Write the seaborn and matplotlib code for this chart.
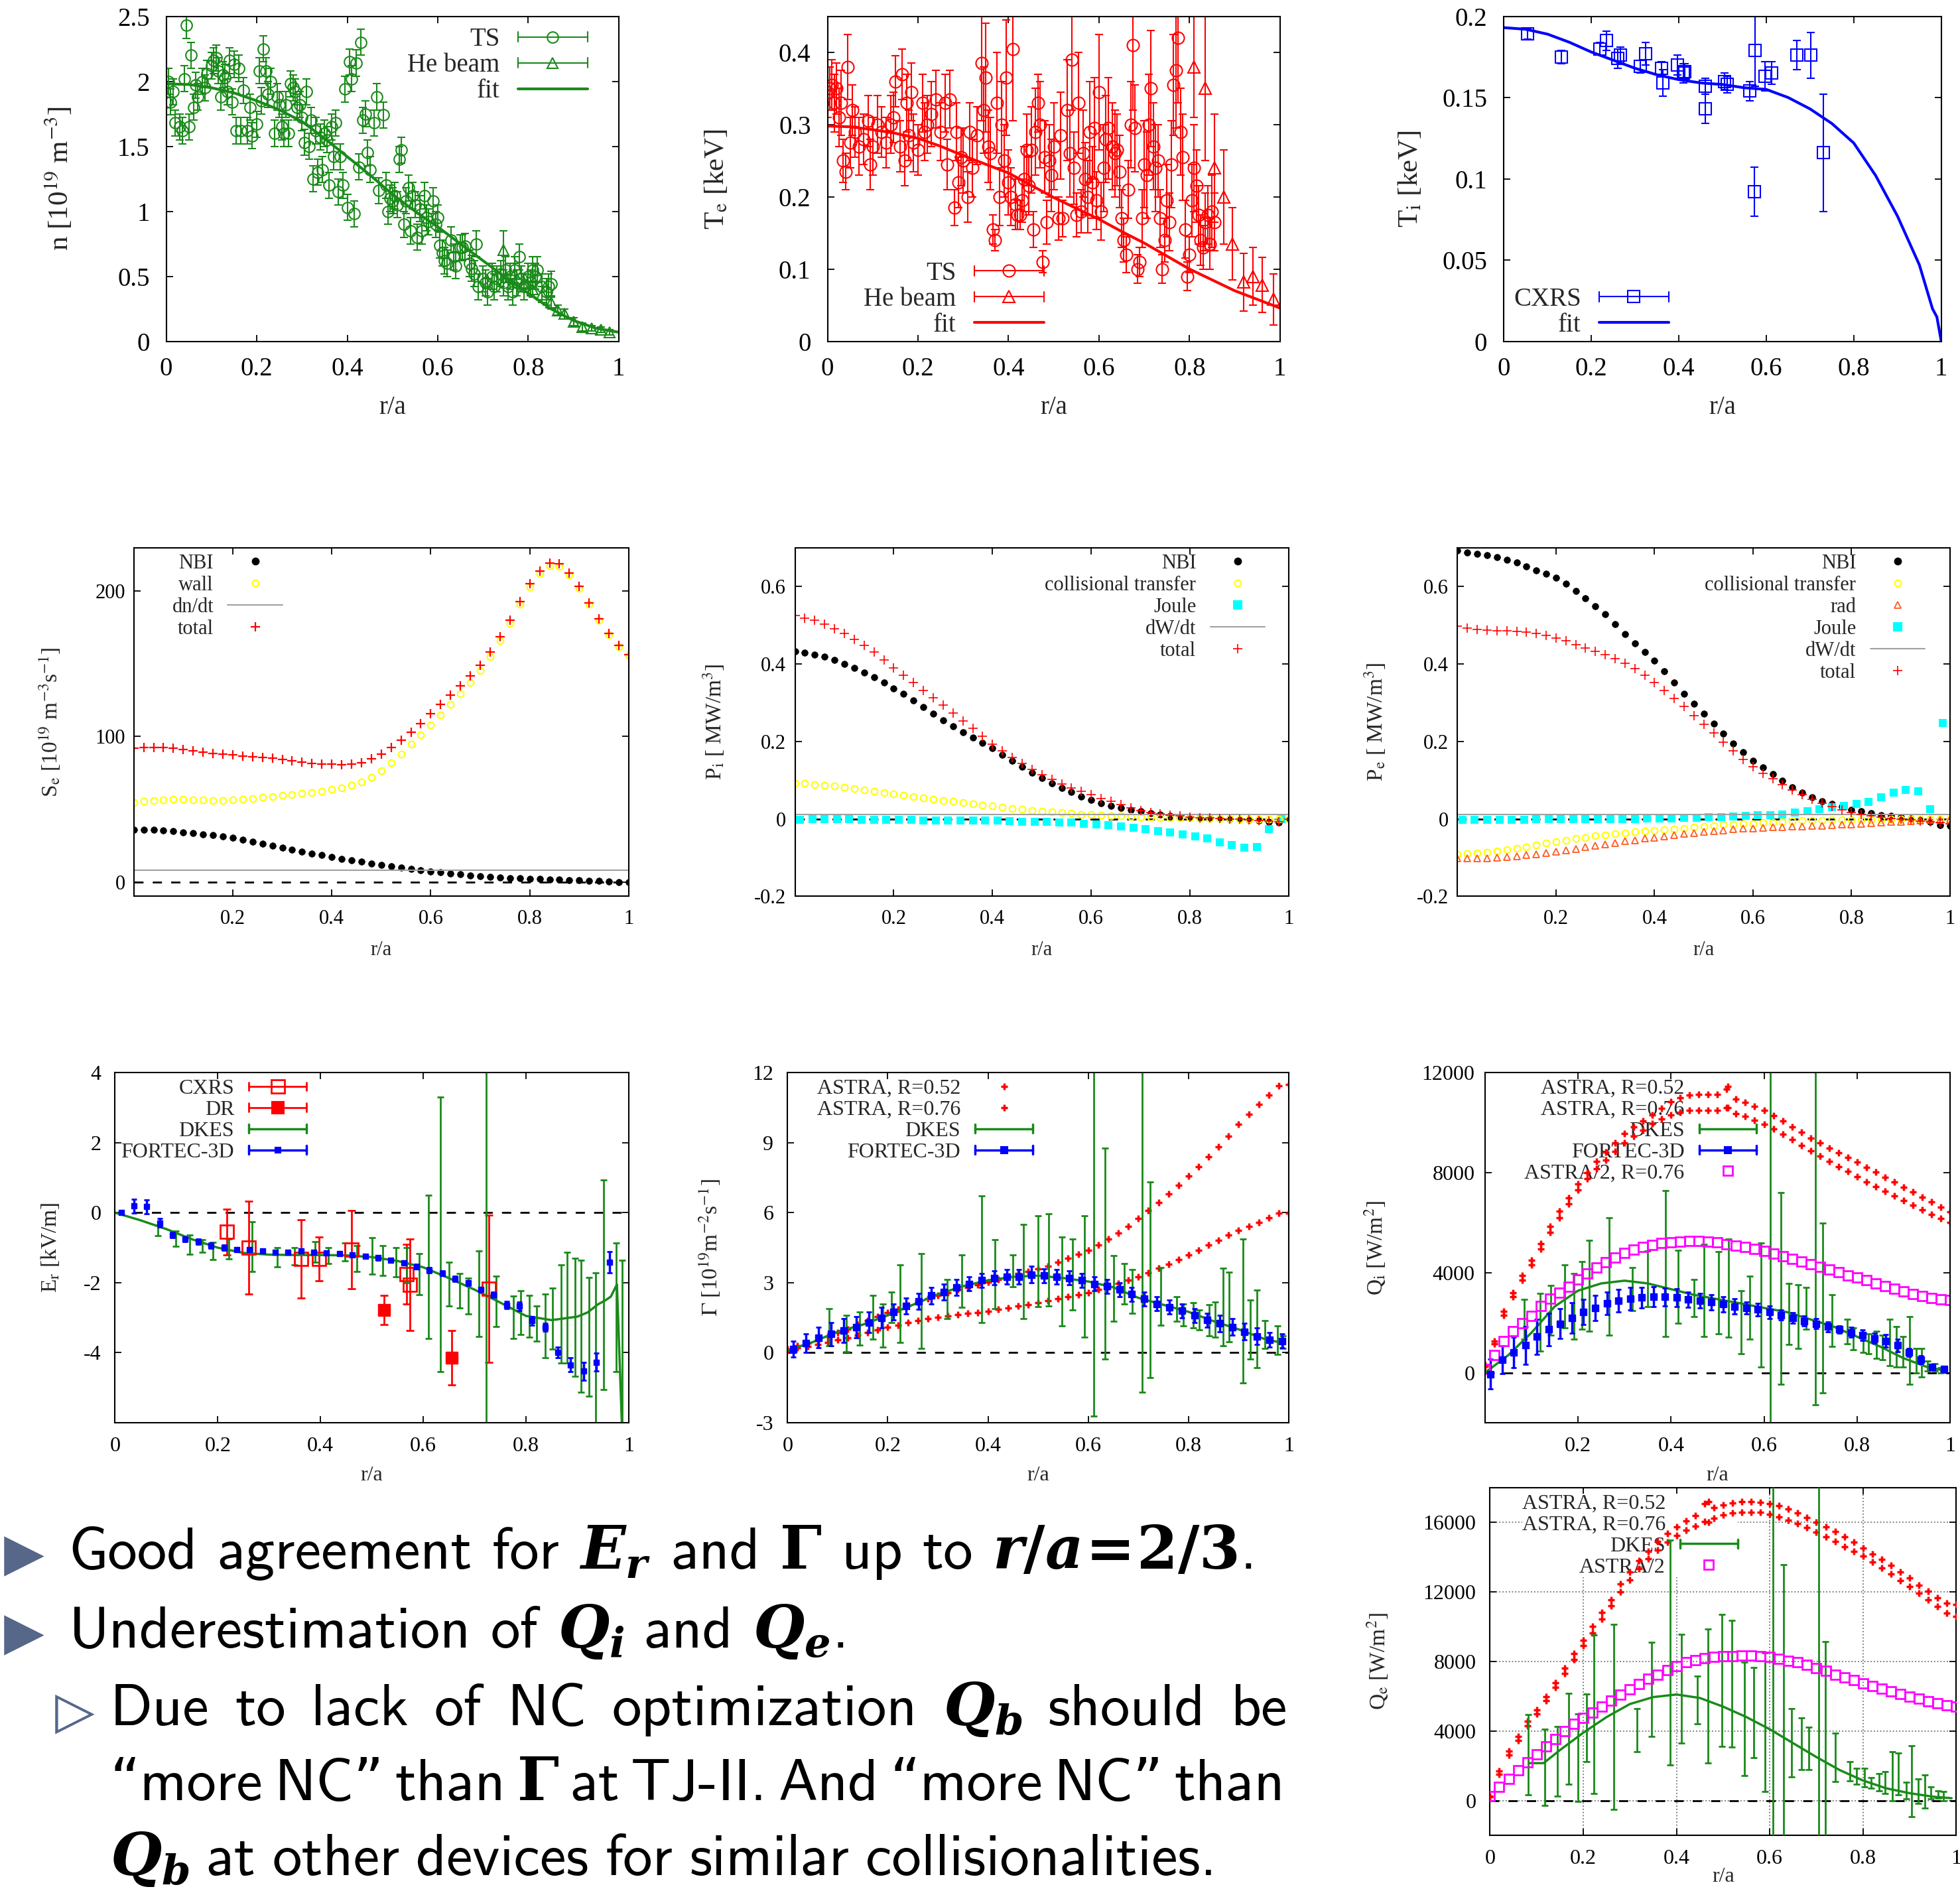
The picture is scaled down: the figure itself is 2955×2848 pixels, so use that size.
import matplotlib
matplotlib.use("Agg")
import matplotlib.pyplot as plt
import seaborn as sns
from matplotlib.lines import Line2D
from matplotlib.legend_handler import HandlerBase
from matplotlib.ticker import FuncFormatter

# ---------------- data ----------------
R51 = [0.00, 0.02, 0.04, 0.06, 0.08, 0.10, 0.12, 0.14, 0.16, 0.18,
       0.20, 0.22, 0.24, 0.26, 0.28, 0.30, 0.32, 0.34, 0.36, 0.38,
       0.40, 0.42, 0.44, 0.46, 0.48, 0.50, 0.52, 0.54, 0.56, 0.58,
       0.60, 0.62, 0.64, 0.66, 0.68, 0.70, 0.72, 0.74, 0.76, 0.78,
       0.80, 0.82, 0.84, 0.86, 0.88, 0.90, 0.92, 0.94, 0.96, 0.98, 1.00]
J40 = [0.010, 0.035, 0.060, 0.085, 0.110, 0.135, 0.160, 0.185, 0.210, 0.235,
       0.260, 0.285, 0.310, 0.335, 0.360, 0.385, 0.410, 0.435, 0.460, 0.485,
       0.510, 0.535, 0.560, 0.585, 0.610, 0.635, 0.660, 0.685, 0.710, 0.735,
       0.760, 0.785, 0.810, 0.835, 0.860, 0.885, 0.910, 0.935, 0.960, 0.985]
F40 = [0.012, 0.037, 0.062, 0.087, 0.112, 0.137, 0.162, 0.187, 0.212, 0.237,
       0.262, 0.287, 0.312, 0.337, 0.362, 0.387, 0.412, 0.437, 0.462, 0.487,
       0.512, 0.537, 0.562, 0.587, 0.612, 0.637, 0.662, 0.687, 0.712, 0.737,
       0.762, 0.787, 0.812, 0.837, 0.862, 0.887, 0.912, 0.937, 0.962, 0.987]
FIT_R = [0.00, 0.05, 0.10, 0.15, 0.20, 0.25, 0.30, 0.35, 0.40, 0.45, 0.50,
         0.55, 0.60, 0.65, 0.70, 0.75, 0.80, 0.85, 0.90, 0.95, 1.00]

# density
N_TS_R = [0.000, 0.005, 0.010, 0.015, 0.020, 0.030, 0.035, 0.040, 0.045, 0.050,
          0.055, 0.060, 0.065, 0.070, 0.080, 0.085, 0.090, 0.100, 0.105, 0.110,
          0.115, 0.120, 0.125, 0.130, 0.135, 0.140, 0.145, 0.150, 0.155, 0.160,
          0.165, 0.170, 0.180, 0.185, 0.190, 0.200, 0.205, 0.210, 0.215, 0.220,
          0.225, 0.230, 0.240, 0.245, 0.250, 0.255, 0.260, 0.265, 0.270, 0.275,
          0.280, 0.285, 0.290, 0.295, 0.300, 0.305, 0.310, 0.315, 0.320, 0.325,
          0.330, 0.335, 0.340, 0.345, 0.350, 0.355, 0.360, 0.365, 0.370, 0.375,
          0.380, 0.385, 0.390, 0.395, 0.400, 0.405, 0.410, 0.415, 0.420, 0.425,
          0.430, 0.435, 0.440, 0.445, 0.450, 0.460, 0.465, 0.470, 0.480, 0.485,
          0.490, 0.495, 0.500, 0.505, 0.510, 0.515, 0.520, 0.525, 0.530, 0.535,
          0.540, 0.545, 0.550, 0.555, 0.560, 0.565, 0.570, 0.575, 0.580, 0.590,
          0.595, 0.600, 0.605, 0.610, 0.615, 0.620, 0.630, 0.635, 0.640, 0.650,
          0.655, 0.660, 0.670, 0.675, 0.680, 0.685, 0.690, 0.700, 0.705, 0.710,
          0.720, 0.725, 0.730, 0.740, 0.745, 0.750, 0.755, 0.760, 0.765, 0.770,
          0.775, 0.780, 0.785, 0.790, 0.800, 0.805, 0.810, 0.815, 0.820, 0.830,
          0.840, 0.845, 0.850]
N_TS_V = [1.84, 2.00, 1.84, 1.92, 1.68, 1.65, 1.62, 2.02, 2.43, 1.65,
          2.20, 1.80, 1.97, 1.88, 2.00, 1.95, 2.06, 2.12, 2.16, 2.18,
          2.08, 1.88, 2.05, 2.03, 1.92, 2.16, 1.84, 2.13, 1.62, 2.10,
          1.62, 1.93, 1.62, 1.80, 1.58, 1.67, 2.08, 1.85, 2.25, 2.08,
          1.90, 2.00, 1.60, 1.88, 1.82, 1.65, 1.60, 1.82, 1.60, 1.98,
          1.95, 1.92, 1.80, 1.82, 1.72, 1.53, 1.92, 1.50, 1.70, 1.25,
          1.62, 1.30, 1.57, 1.32, 1.60, 1.55, 1.20, 1.65, 1.42, 1.68,
          1.15, 1.42, 1.20, 1.94, 1.03, 2.15, 2.02, 0.98, 2.14, 1.34,
          2.30, 1.70, 1.75, 1.45, 1.32, 1.68, 1.88, 1.16, 1.74, 1.20,
          1.00, 1.10, 1.08, 1.12, 1.05, 1.40, 1.47, 0.90, 1.08, 1.18,
          0.85, 1.12, 1.05, 0.80, 1.02, 0.85, 1.12, 0.95, 0.92, 1.08,
          0.90, 0.95, 0.74, 0.68, 0.62, 0.60, 0.78, 0.65, 0.58, 0.72,
          0.72, 0.73, 0.60, 0.56, 0.52, 0.75, 0.42, 0.48, 0.45, 0.38,
          0.50, 0.42, 0.48, 0.52, 0.45, 0.55, 0.42, 0.50, 0.38, 0.55,
          0.45, 0.65, 0.48, 0.42, 0.50, 0.45, 0.55, 0.50, 0.55, 0.42,
          0.38, 0.42, 0.44]
N_TS_ERR = 0.1
N_HE_R = [0.745, 0.770, 0.790, 0.810, 0.830, 0.850, 0.865, 0.880, 0.900, 0.920, 0.940, 0.960, 0.980]
N_HE_V = [0.70, 0.52, 0.45, 0.40, 0.36, 0.30, 0.24, 0.21, 0.15, 0.11, 0.10, 0.09, 0.07]
N_HE_ERR = [0.15, 0.08, 0.07, 0.06, 0.06, 0.05, 0.04, 0.04, 0.03, 0.03, 0.02, 0.02, 0.02]
N_FIT = [1.98, 1.975, 1.95, 1.91, 1.85, 1.78, 1.69, 1.56, 1.42, 1.28, 1.13,
         1.00, 0.88, 0.75, 0.62, 0.49, 0.37, 0.25, 0.16, 0.10, 0.07]

# electron temperature
TE_TS_R = [0.000, 0.005, 0.010, 0.015, 0.020, 0.025, 0.030, 0.035, 0.040, 0.045,
           0.050, 0.055, 0.060, 0.070, 0.080, 0.090, 0.095, 0.100, 0.110, 0.120,
           0.130, 0.140, 0.145, 0.150, 0.160, 0.165, 0.170, 0.175, 0.180, 0.185,
           0.190, 0.200, 0.210, 0.215, 0.220, 0.230, 0.240, 0.250, 0.260, 0.265,
           0.270, 0.280, 0.285, 0.290, 0.295, 0.300, 0.310, 0.315, 0.320, 0.330,
           0.340, 0.345, 0.350, 0.355, 0.360, 0.365, 0.370, 0.375, 0.380, 0.385,
           0.390, 0.395, 0.400, 0.405, 0.410, 0.415, 0.420, 0.425, 0.430, 0.435,
           0.440, 0.445, 0.450, 0.455, 0.460, 0.465, 0.470, 0.475, 0.480, 0.485,
           0.490, 0.495, 0.500, 0.510, 0.515, 0.520, 0.530, 0.535, 0.540, 0.545,
           0.550, 0.555, 0.560, 0.565, 0.570, 0.575, 0.580, 0.585, 0.590, 0.595,
           0.600, 0.605, 0.610, 0.615, 0.620, 0.630, 0.635, 0.640, 0.645, 0.650,
           0.655, 0.660, 0.665, 0.670, 0.675, 0.680, 0.685, 0.690, 0.695, 0.700,
           0.705, 0.710, 0.715, 0.720, 0.725, 0.730, 0.735, 0.740, 0.745, 0.750,
           0.755, 0.760, 0.765, 0.770, 0.775, 0.780, 0.785, 0.790, 0.795, 0.800,
           0.805, 0.810, 0.815, 0.820, 0.825, 0.830, 0.835, 0.840, 0.845, 0.850,
           0.855]
TE_TS_V = [0.345, 0.350, 0.355, 0.330, 0.350, 0.310, 0.330, 0.250, 0.235, 0.380,
           0.275, 0.320, 0.290, 0.270, 0.280, 0.305, 0.245, 0.270, 0.300, 0.290,
           0.275, 0.300, 0.310, 0.360, 0.270, 0.370, 0.250, 0.330, 0.285, 0.345,
           0.275, 0.265, 0.330, 0.290, 0.300, 0.315, 0.335, 0.290, 0.330, 0.245,
           0.335, 0.185, 0.290, 0.220, 0.255, 0.250, 0.200, 0.290, 0.240, 0.285,
           0.385, 0.320, 0.365, 0.270, 0.260, 0.155, 0.140, 0.330, 0.200, 0.300,
           0.250, 0.365, 0.220, 0.200, 0.405, 0.190, 0.175, 0.175, 0.195, 0.225,
           0.265, 0.215, 0.265, 0.155, 0.290, 0.330, 0.300, 0.110, 0.255, 0.165,
           0.250, 0.230, 0.270, 0.170, 0.285, 0.170, 0.320, 0.260, 0.390, 0.240,
           0.175, 0.330, 0.180, 0.260, 0.225, 0.200, 0.290, 0.220, 0.295, 0.195,
           0.345, 0.180, 0.240, 0.280, 0.295, 0.270, 0.260, 0.265, 0.235, 0.170,
           0.140, 0.120, 0.210, 0.300, 0.410, 0.295, 0.100, 0.110, 0.170, 0.245,
           0.230, 0.300, 0.350, 0.270, 0.240, 0.250, 0.170, 0.100, 0.140, 0.195,
           0.165, 0.245, 0.355, 0.375, 0.420, 0.290, 0.255, 0.155, 0.090, 0.120,
           0.195, 0.240, 0.215, 0.175, 0.140, 0.130, 0.165, 0.175, 0.135, 0.180,
           0.165]
TE_TS_ERR = [0.035, 0.030, 0.035, 0.040, 0.035, 0.040, 0.045, 0.030, 0.025, 0.045,
             0.035, 0.035, 0.035, 0.040, 0.035, 0.035, 0.035, 0.040, 0.040, 0.035,
             0.035, 0.040, 0.035, 0.035, 0.035, 0.035, 0.035, 0.040, 0.035, 0.040,
             0.040, 0.035, 0.040, 0.040, 0.040, 0.045, 0.040, 0.040, 0.040, 0.035,
             0.040, 0.025, 0.040, 0.035, 0.040, 0.045, 0.035, 0.040, 0.040, 0.040,
             0.080, 0.060, 0.075, 0.050, 0.050, 0.020, 0.015, 0.070, 0.040, 0.060,
             0.050, 0.080, 0.045, 0.040, 0.100, 0.035, 0.020, 0.020, 0.030, 0.045,
             0.050, 0.040, 0.060, 0.025, 0.060, 0.040, 0.060, 0.015, 0.050, 0.030,
             0.050, 0.050, 0.060, 0.030, 0.060, 0.025, 0.070, 0.060, 0.070, 0.050,
             0.030, 0.070, 0.030, 0.060, 0.050, 0.050, 0.070, 0.050, 0.070, 0.040,
             0.080, 0.040, 0.060, 0.060, 0.070, 0.060, 0.060, 0.050, 0.050, 0.040,
             0.030, 0.025, 0.040, 0.060, 0.090, 0.060, 0.020, 0.020, 0.040, 0.060,
             0.060, 0.070, 0.080, 0.060, 0.060, 0.050, 0.040, 0.020, 0.030, 0.050,
             0.040, 0.060, 0.070, 0.080, 0.090, 0.060, 0.060, 0.040, 0.020, 0.025,
             0.050, 0.060, 0.050, 0.040, 0.035, 0.030, 0.040, 0.040, 0.035, 0.050,
             0.040]
TE_HE_R = [0.810, 0.835, 0.855, 0.875, 0.895, 0.920, 0.940, 0.960, 0.985]
TE_HE_V = [0.380, 0.350, 0.240, 0.200, 0.135, 0.082, 0.090, 0.078, 0.058]
TE_HE_ERR = [0.070, 0.100, 0.075, 0.065, 0.050, 0.040, 0.040, 0.038, 0.035]
TE_FIT = [0.298, 0.297, 0.293, 0.288, 0.281, 0.270, 0.257, 0.245, 0.233, 0.216, 0.199,
          0.184, 0.169, 0.152, 0.136, 0.118, 0.100, 0.085, 0.070, 0.058, 0.046]

# ion temperature
TI_CX_R = [0.055, 0.131, 0.219, 0.235, 0.260, 0.266, 0.312, 0.324, 0.361, 0.363,
           0.397, 0.410, 0.414, 0.461, 0.461, 0.504, 0.510, 0.563, 0.574, 0.573,
           0.597, 0.613, 0.670, 0.702, 0.730]
TI_CX_V = [0.189, 0.175, 0.180, 0.185, 0.174, 0.176, 0.169, 0.177, 0.168, 0.159,
           0.170, 0.165, 0.166, 0.157, 0.143, 0.160, 0.158, 0.154, 0.179, 0.092,
           0.163, 0.165, 0.176, 0.176, 0.116]
TI_CX_ERR = [0.003, 0.004, 0.004, 0.006, 0.006, 0.005, 0.004, 0.007, 0.004, 0.008,
             0.006, 0.006, 0.005, 0.005, 0.009, 0.005, 0.005, 0.006, 0.022, 0.015,
             0.009, 0.007, 0.009, 0.014, 0.036]
TI_FIT_R = [0.00, 0.05, 0.10, 0.15, 0.20, 0.25, 0.30, 0.35, 0.40, 0.45, 0.50, 0.55,
            0.60, 0.65, 0.70, 0.75, 0.80, 0.85, 0.90, 0.95, 0.98, 0.99, 1.00]
TI_FIT = [0.193, 0.192, 0.189, 0.184, 0.178, 0.173, 0.168, 0.164, 0.161, 0.159, 0.158, 0.156,
          0.155, 0.150, 0.143, 0.134, 0.122, 0.102, 0.077, 0.047, 0.020, 0.015, 0.000]

# particle sources
SE_NBI = [36.0, 35.9, 35.7, 35.3, 34.8, 34.2, 33.5, 32.8, 32.1, 31.3,
          30.4, 29.1, 27.8, 26.4, 25.0, 23.6, 22.3, 21.0, 19.6, 18.3,
          17.0, 15.9, 14.8, 13.8, 12.7, 11.7, 10.8, 9.9, 9.0, 8.1,
          7.3, 6.6, 5.8, 5.1, 4.4, 3.8, 3.4, 3.0, 2.7, 2.4,
          2.1, 1.9, 1.6, 1.4, 1.2, 1.0, 0.8, 0.6, 0.3, 0.0, -0.3]
SE_WALL = [54.5, 55.5, 56.0, 56.5, 56.8, 56.8, 56.6, 56.3, 56.0, 56.0,
           56.3, 56.9, 57.5, 58.2, 58.8, 59.5, 60.0, 60.8, 61.5, 62.5,
           63.5, 64.8, 66.2, 68.5, 72.0, 76.5, 82.0, 88.0, 94.5, 101.0,
           108.0, 115.0, 122.0, 129.5, 137.0, 145.5, 155.0, 166.0, 178.0, 191.0,
           203.0, 212.0, 217.5, 217.0, 211.0, 202.0, 191.0, 180.0, 170.0, 162.0, 156.0]
SE_DNDT = 8.0
SE_TOTAL = [92.0, 92.5, 92.5, 92.3, 92.0, 91.0, 90.0, 89.2, 88.5, 88.0,
            87.3, 86.6, 86.0, 85.5, 85.0, 84.3, 83.5, 82.5, 81.5, 81.0,
            80.8, 80.6, 80.8, 82.0, 84.5, 88.0, 92.5, 97.5, 103.0, 109.0,
            115.5, 122.0, 128.5, 135.0, 141.5, 149.0, 158.0, 168.5, 180.0, 193.0,
            205.0, 214.0, 219.5, 219.0, 212.5, 203.5, 192.0, 181.0, 171.0, 162.5, 156.5]

# ion power balance
PI_NBI = [0.432, 0.428, 0.424, 0.418, 0.410, 0.400, 0.390, 0.378, 0.365, 0.351,
          0.337, 0.322, 0.305, 0.289, 0.271, 0.254, 0.239, 0.224, 0.210, 0.196,
          0.182, 0.166, 0.150, 0.134, 0.119, 0.105, 0.092, 0.080, 0.069, 0.058,
          0.049, 0.041, 0.034, 0.028, 0.023, 0.019, 0.015, 0.011, 0.008, 0.005,
          0.004, 0.003, 0.002, 0.001, 0.000, -0.001, -0.002, -0.004, -0.007, -0.010, 0.000]
PI_COLL = [0.092, 0.091, 0.089, 0.087, 0.084, 0.081, 0.078, 0.075, 0.071, 0.068,
           0.065, 0.061, 0.058, 0.054, 0.051, 0.048, 0.045, 0.042, 0.039, 0.036,
           0.033, 0.030, 0.027, 0.025, 0.022, 0.020, 0.018, 0.016, 0.014, 0.012,
           0.011, 0.009, 0.008, 0.007, 0.006, 0.005, 0.004, 0.003, 0.003, 0.002,
           0.002, 0.001, 0.001, 0.001, 0.001, 0.000, 0.000, 0.000, 0.000, 0.000, 0.000]
PI_JOULE = [-0.002, -0.001, 0.000, -0.001, -0.001, -0.002, -0.002, -0.003, -0.003, -0.003,
            -0.004, -0.004, -0.004, -0.004, -0.004, -0.005, -0.005, -0.006, -0.007, -0.007,
            -0.008, -0.009, -0.010, -0.012, -0.014, -0.016, -0.019, -0.023, -0.027, -0.031,
            -0.035, -0.040, -0.045, -0.050, -0.060, -0.068, -0.074, -0.072, -0.027, -0.001]
PI_DWDT = 0.012
PI_TOTAL = [0.524, 0.518, 0.512, 0.503, 0.491, 0.478, 0.463, 0.447, 0.430, 0.410,
            0.390, 0.371, 0.352, 0.332, 0.313, 0.294, 0.273, 0.253, 0.233, 0.213,
            0.193, 0.176, 0.159, 0.143, 0.128, 0.114, 0.102, 0.090, 0.080, 0.071,
            0.062, 0.053, 0.045, 0.037, 0.029, 0.022, 0.017, 0.013, 0.010, 0.007,
            0.005, 0.003, 0.002, 0.001, 0.000, -0.001, -0.002, -0.004, -0.006, -0.008, 0.000]

# electron power balance
PE_NBI = [0.692, 0.688, 0.684, 0.680, 0.675, 0.669, 0.662, 0.652, 0.641, 0.632,
          0.622, 0.606, 0.588, 0.569, 0.549, 0.528, 0.503, 0.477, 0.452, 0.430,
          0.409, 0.381, 0.352, 0.323, 0.297, 0.272, 0.246, 0.220, 0.195, 0.172,
          0.150, 0.132, 0.115, 0.099, 0.082, 0.067, 0.056, 0.046, 0.038, 0.031,
          0.024, 0.019, 0.014, 0.010, 0.007, 0.004, 0.001, -0.003, -0.008, -0.016, -0.018]
PE_COLL = [-0.092, -0.090, -0.088, -0.086, -0.083, -0.080, -0.076, -0.072, -0.068, -0.063,
           -0.059, -0.055, -0.051, -0.048, -0.044, -0.041, -0.039, -0.036, -0.034, -0.032,
           -0.030, -0.028, -0.026, -0.024, -0.021, -0.019, -0.017, -0.015, -0.014, -0.013,
           -0.012, -0.010, -0.009, -0.008, -0.006, -0.005, -0.004, -0.004, -0.003, -0.003,
           -0.003, -0.002, -0.002, -0.002, -0.001, -0.001, -0.001, -0.001, 0.000, 0.000, 0.000]
PE_RAD = [-0.102, -0.102, -0.101, -0.101, -0.100, -0.099, -0.097, -0.094, -0.091, -0.088,
          -0.084, -0.081, -0.077, -0.073, -0.070, -0.066, -0.062, -0.058, -0.055, -0.051,
          -0.048, -0.045, -0.042, -0.039, -0.036, -0.034, -0.032, -0.029, -0.027, -0.025,
          -0.024, -0.023, -0.022, -0.021, -0.020, -0.019, -0.018, -0.017, -0.016, -0.015,
          -0.014, -0.013, -0.011, -0.010, -0.008, -0.007, -0.006, -0.004, -0.003, -0.002, -0.001]
PE_JOULE = [-0.003, -0.003, -0.002, -0.002, -0.002, -0.002, -0.001, -0.001, -0.001, -0.001,
            -0.001, 0.000, 0.000, 0.000, 0.000, 0.001, 0.001, 0.001, 0.002, 0.002,
            0.004, 0.005, 0.006, 0.007, 0.009, 0.010, 0.012, 0.016, 0.020, 0.025,
            0.030, 0.034, 0.038, 0.043, 0.056, 0.067, 0.074, 0.072, 0.025, 0.247]
PE_DWDT = 0.012
PE_TOTAL = [0.497, 0.492, 0.489, 0.487, 0.486, 0.485, 0.484, 0.482, 0.478, 0.473,
            0.467, 0.459, 0.450, 0.441, 0.432, 0.424, 0.413, 0.402, 0.388, 0.371,
            0.352, 0.332, 0.311, 0.290, 0.267, 0.244, 0.221, 0.198, 0.175, 0.154,
            0.135, 0.118, 0.103, 0.089, 0.075, 0.063, 0.051, 0.040, 0.031, 0.023,
            0.017, 0.012, 0.008, 0.004, 0.001, -0.001, -0.003, -0.006, -0.008, -0.010, -0.012]

# radial electric field
ER_CXRS_R = [0.218, 0.260, 0.362, 0.397, 0.461, 0.567, 0.574, 0.728]
ER_CXRS_V = [-0.55, -1.00, -1.32, -1.32, -1.05, -1.75, -2.06, -2.17]
ER_CXRS_ERR = [0.65, 1.33, 1.12, 0.63, 1.12, 0.85, 1.30, 2.10]
ER_DR_R = [0.524, 0.655]
ER_DR_V = [-2.78, -4.15]
ER_DR_ERR = [0.42, 0.78]
ER_DKES_LR = [0.0, 0.05, 0.10, 0.15, 0.20, 0.25, 0.30, 0.35, 0.40, 0.45, 0.50, 0.55,
              0.60, 0.65, 0.70, 0.75, 0.80, 0.85, 0.90, 0.92, 0.94, 0.955, 0.965, 0.977, 0.987]
ER_DKES_LV = [0.0, -0.22, -0.47, -0.76, -1.00, -1.15, -1.20, -1.21, -1.21, -1.22, -1.27, -1.38,
              -1.56, -1.87, -2.20, -2.57, -2.95, -3.07, -2.97, -2.85, -2.62, -2.50, -2.40, -2.05, -6.2]
ER_DKES_R = [0.083, 0.118, 0.145, 0.170, 0.190, 0.222, 0.267, 0.316, 0.349, 0.389,
             0.415, 0.447, 0.471, 0.501, 0.521, 0.547, 0.568, 0.592, 0.610, 0.634,
             0.650, 0.671, 0.688, 0.708, 0.722, 0.742, 0.776, 0.790, 0.807, 0.821,
             0.837, 0.851, 0.868, 0.880, 0.895, 0.907, 0.922, 0.935, 0.951, 0.976, 0.987]
ER_DKES_HI = [-0.35, -0.53, -0.63, -0.78, -0.84, -0.76, -0.26, -1.00, -1.00, -0.82,
              -1.00, -0.86, -0.95, -0.72, -0.95, -0.99, -0.99, -1.17, 0.49, 3.30,
              -1.42, -1.73, -1.87, -1.09, 4.50, -1.81, -2.39, -2.23, -2.37, -2.67,
              -2.33, -2.16, -1.50, -1.13, -1.30, -1.35, -1.85, -1.71, 0.93, -0.86, -1.35]
ER_DKES_LO = [-0.65, -0.96, -1.19, -1.13, -1.34, -1.32, -1.69, -1.54, -1.50, -1.42,
              -1.46, -1.38, -1.69, -1.75, -1.79, -1.83, -2.01, -2.34, -3.60, -4.54,
              -2.66, -2.72, -2.89, -3.54, -6.50, -3.25, -3.60, -3.48, -3.56, -3.67,
              -4.14, -3.89, -4.30, -4.30, -4.68, -5.13, -5.25, -6.50, -5.05, -4.55, -6.50]
ER_FT_V = [0.00, 0.19, 0.17, -0.29, -0.64, -0.76, -0.83, -0.94, -1.00, -1.05,
           -1.06, -1.09, -1.13, -1.13, -1.09, -1.13, -1.15, -1.17, -1.21, -1.24,
           -1.29, -1.36, -1.44, -1.54, -1.64, -1.73, -1.89, -2.01, -2.20, -2.34,
           -2.64, -2.67, -3.09, -3.27, -3.99, -4.35, -4.53, -4.27, -1.42]
ER_FT_ERR = [0.06, 0.20, 0.20, 0.12, 0.08, 0.07, 0.07, 0.07, 0.07, 0.06,
             0.06, 0.06, 0.06, 0.06, 0.06, 0.06, 0.06, 0.06, 0.06, 0.06,
             0.06, 0.06, 0.06, 0.07, 0.07, 0.07, 0.07, 0.07, 0.07, 0.08,
             0.10, 0.12, 0.12, 0.12, 0.15, 0.20, 0.25, 0.25, 0.30]

# particle flux
GAM_A52 = [0.15, 0.30, 0.42, 0.53, 0.68, 0.85, 1.02, 1.20, 1.37, 1.55,
           1.72, 1.87, 2.02, 2.17, 2.32, 2.46, 2.58, 2.70, 2.81, 2.92,
           3.02, 3.14, 3.26, 3.38, 3.48, 3.58, 3.72, 3.88, 4.04, 4.21,
           4.38, 4.62, 4.86, 5.12, 5.42, 5.74, 6.08, 6.43, 6.80, 7.18,
           7.58, 7.98, 8.40, 8.82, 9.28, 9.78, 10.22, 10.65, 11.05, 11.45, 11.50]
GAM_A76 = [0.10, 0.20, 0.28, 0.36, 0.45, 0.54, 0.65, 0.76, 0.87, 0.98,
           1.10, 1.19, 1.28, 1.37, 1.45, 1.53, 1.58, 1.63, 1.68, 1.73,
           1.78, 1.85, 1.92, 2.00, 2.07, 2.15, 2.23, 2.31, 2.40, 2.49,
           2.58, 2.70, 2.82, 2.96, 3.10, 3.26, 3.43, 3.61, 3.79, 3.98,
           4.19, 4.40, 4.61, 4.82, 5.03, 5.24, 5.42, 5.59, 5.78, 5.98, 5.98]
GAM_DKES_LR = [0.0, 0.05, 0.10, 0.15, 0.20, 0.25, 0.30, 0.35, 0.40, 0.45, 0.50,
               0.55, 0.60, 0.65, 0.70, 0.75, 0.80, 0.85, 0.90, 0.95, 0.98]
GAM_DKES_LV = [0.10, 0.45, 0.90, 1.20, 1.60, 2.05, 2.50, 2.85, 3.10, 3.25, 3.30,
               3.20, 3.05, 2.80, 2.35, 2.05, 1.75, 1.35, 1.00, 0.60, 0.45]
GAM_DKES_R = [0.083, 0.117, 0.144, 0.170, 0.190, 0.208, 0.225, 0.267, 0.318, 0.348,
              0.388, 0.414, 0.450, 0.471, 0.500, 0.521, 0.548, 0.569, 0.593, 0.611,
              0.634, 0.651, 0.672, 0.688, 0.708, 0.724, 0.744, 0.777, 0.789, 0.810,
              0.822, 0.841, 0.853, 0.869, 0.881, 0.909, 0.923, 0.937, 0.952, 0.978, 0.988]
GAM_DKES_HI = [1.90, 1.60, 1.75, 2.46, 2.09, 2.60, 3.76, 4.25, 3.14, 4.19,
               6.72, 4.83, 4.19, 5.51, 5.86, 5.95, 4.97, 4.87, 5.86, 12.5,
               8.76, 4.15, 3.82, 3.57, 12.5, 7.32, 3.66, 2.40, 2.09, 2.15,
               1.84, 2.05, 2.18, 3.61, 3.45, 4.87, 2.27, 2.67, 1.37, 1.14, 0.73]
GAM_DKES_LO = [0.30, 0.05, 0.32, 0.57, 0.23, 1.30, 0.44, 0.17, 1.47, 1.93,
               1.29, 1.90, 2.83, 1.47, 1.97, 1.99, 1.16, 1.84, 0.67, -2.73,
               -0.26, 1.35, 2.09, 1.68, -1.68, -1.06, 1.19, 1.35, 1.16, 1.06,
               0.98, 0.73, 0.67, 0.30, 0.48, -1.29, -0.28, -0.63, 0.17, -0.07, 0.17]
GAM_FT_V = [0.15, 0.40, 0.65, 0.80, 0.95, 1.10, 1.30, 1.50, 1.75, 2.00,
            2.20, 2.45, 2.60, 2.80, 2.95, 3.10, 3.20, 3.25, 3.25, 3.35,
            3.30, 3.25, 3.20, 3.10, 2.95, 2.85, 2.70, 2.50, 2.30, 2.10,
            1.95, 1.80, 1.60, 1.40, 1.25, 1.10, 0.90, 0.70, 0.55, 0.50]
GAM_FT_ERR = [0.35, 0.40, 0.45, 0.50, 0.50, 0.45, 0.45, 0.45, 0.35, 0.35,
              0.35, 0.35, 0.35, 0.35, 0.30, 0.30, 0.30, 0.30, 0.30, 0.35,
              0.30, 0.30, 0.30, 0.30, 0.30, 0.30, 0.30, 0.30, 0.30, 0.30,
              0.30, 0.30, 0.30, 0.30, 0.35, 0.35, 0.35, 0.35, 0.30, 0.30]

# ion heat flux
QI_A52 = [300, 1250, 2450, 3200, 3900, 4500, 5150, 5850, 6450, 7000,
          7550, 8000, 8450, 8820, 9200, 9560, 9820, 10080, 10300, 10580,
          10830, 11000, 11100, 11140, 11140, 11140, 11350, 10950, 10800, 10650,
          10480, 10270, 10060, 9840, 9610, 9390, 9190, 8990, 8790, 8600,
          8420, 8220, 8020, 7820, 7620, 7420, 7220, 7020, 6820, 6620, 6430]
QI_A76 = [250, 1150, 2300, 3050, 3700, 4300, 4950, 5600, 6200, 6750,
          7300, 7750, 8150, 8500, 8850, 9200, 9450, 9700, 9950, 10150,
          10300, 10420, 10500, 10500, 10500, 10500, 10600, 10350, 10250, 10100,
          9940, 9740, 9540, 9320, 9100, 8870, 8670, 8460, 8250, 8040,
          7830, 7640, 7450, 7260, 7070, 6880, 6700, 6520, 6340, 6160, 6010]
QI_HALF = [150, 700, 1250, 1650, 1970, 2280, 2680, 2960, 3200, 3450,
           3720, 3960, 4200, 4410, 4610, 4780, 4930, 5040, 5120, 5175,
           5210, 5235, 5255, 5265, 5250, 5210, 5145, 5080, 5030, 4960,
           4880, 4770, 4670, 4560, 4450, 4340, 4230, 4120, 4010, 3900,
           3800, 3690, 3580, 3470, 3360, 3250, 3140, 3060, 2990, 2930, 2900]
QI_DKES_LR = [0.0, 0.05, 0.10, 0.15, 0.20, 0.25, 0.30, 0.35, 0.40, 0.45, 0.50,
              0.55, 0.60, 0.65, 0.70, 0.75, 0.80, 0.85, 0.90, 0.95, 0.98]
QI_DKES_LV = [0, 700, 1600, 2650, 3280, 3570, 3680, 3570, 3340, 3110, 2940,
              2770, 2590, 2420, 2130, 1840, 1440, 1040, 580, 230, 115]
QI_DKES_R = [0.085, 0.118, 0.141, 0.171, 0.191, 0.208, 0.224, 0.267, 0.317, 0.350,
             0.388, 0.415, 0.449, 0.471, 0.503, 0.524, 0.551, 0.570, 0.593, 0.613,
             0.636, 0.653, 0.674, 0.691, 0.711, 0.726, 0.746, 0.779, 0.792, 0.813,
             0.825, 0.842, 0.855, 0.871, 0.884, 0.899, 0.913, 0.927, 0.939, 0.952,
             0.967, 0.980]
QI_DKES_HI = [2940, 3170, 3490, 4320, 3970, 4440, 5300, 6190, 4210, 4860,
              7290, 4900, 3740, 5130, 4840, 5360, 3280, 3860, 5180, 12500,
              7200, 3570, 3510, 3400, 12500, 5990, 3110, 2130, 1790, 1610,
              1560, 1670, 1500, 2130, 1840, 1440, 2250, 980, 980, 460, 350, 200]
QI_DKES_LO = [1330, 860, 1500, 1790, 1350, 1730, 1670, 1500, 2480, 2650,
              1460, 1990, 2250, 1440, 1560, 1410, 750, 1350, 230, -2500,
              -460, 1120, 980, 1730, -1290, -810, 1060, 1150, 920, 810,
              750, 580, 520, 290, 230, 230, -460, 0, -170, 60, 60, 0]
QI_FT_V = [-60, 520, 810, 1090, 1440, 1730, 1960, 2190, 2420, 2590,
           2770, 2880, 2960, 3000, 3050, 3030, 3000, 2920, 2880, 2820,
           2740, 2650, 2590, 2530, 2420, 2300, 2190, 2070, 1960, 1840,
           1730, 1610, 1500, 1380, 1270, 1090, 810, 520, 230, 150]
QI_FT_ERR = [600, 550, 600, 750, 700, 650, 600, 600, 500, 500,
             450, 450, 450, 400, 400, 350, 350, 300, 300, 300,
             300, 300, 250, 250, 250, 200, 200, 200, 200, 200,
             150, 200, 200, 200, 250, 250, 150, 150, 100, 80]

# electron heat flux
QE_A52 = [250, 1700, 2850, 3680, 4560, 5230, 5990, 6770, 7610, 8440,
          9220, 10010, 10830, 11550, 12450, 13160, 13810, 14350, 14900, 15370,
          15750, 16100, 16380, 17100, 16850, 17020, 17130, 17190, 17190, 17140,
          17070, 16960, 16780, 16530, 16290, 16030, 15760, 15470, 15180, 14860,
          14540, 14200, 13870, 13530, 13170, 12790, 12400, 12030, 11650, 11370, 11280]
QE_A76 = [200, 1500, 2600, 3450, 4300, 5000, 5750, 6500, 7300, 8100,
          8900, 9650, 10450, 11200, 12000, 12700, 13350, 13900, 14400, 14850,
          15250, 15550, 15800, 16050, 16250, 16450, 16550, 16590, 16590, 16570,
          16480, 16320, 16130, 15920, 15700, 15450, 15180, 14900, 14620, 14330,
          14050, 13720, 13380, 13030, 12670, 12300, 11930, 11560, 11180, 10800, 10600]
QE_HALF = [250, 800, 1250, 1750, 2200, 2650, 3100, 3550, 4000, 4400,
           4750, 5050, 5400, 5750, 6100, 6400, 6700, 7000, 7250, 7500,
           7750, 7950, 8080, 8200, 8270, 8300, 8320, 8330, 8330, 8310,
           8250, 8150, 8050, 7950, 7800, 7600, 7450, 7250, 7100, 6920,
           6750, 6580, 6420, 6270, 6130, 5990, 5850, 5720, 5600, 5480, 5390]
QE_DKES_LR = [0.085, 0.115, 0.15, 0.20, 0.25, 0.30, 0.35, 0.40, 0.45, 0.50,
              0.55, 0.60, 0.65, 0.70, 0.75, 0.80, 0.85, 0.90, 0.95, 0.99]
QE_DKES_LV = [2150, 2150, 2900, 3900, 4800, 5550, 5950, 6100, 5900, 5400,
              4800, 4100, 3300, 2500, 1750, 1150, 700, 420, 220, 130]
QE_DKES_R = [0.082, 0.117, 0.144, 0.169, 0.189, 0.207, 0.223, 0.265, 0.315, 0.347,
             0.386, 0.411, 0.444, 0.468, 0.498, 0.519, 0.546, 0.565, 0.590, 0.607,
             0.629, 0.647, 0.668, 0.684, 0.705, 0.719, 0.740, 0.772, 0.786, 0.803,
             0.818, 0.834, 0.847, 0.863, 0.876, 0.893, 0.904, 0.919, 0.932, 0.946,
             0.961, 0.973]
QE_DKES_HI = [4940, 4110, 4260, 6170, 4970, 6140, 9540, 10140, 5270, 9090,
              14970, 9570, 7160, 9870, 10700, 10370, 7960, 7650, 8480, 19000,
              13570, 5280, 4760, 4210, 19000, 9130, 3880, 2220, 1840, 1840,
              1310, 1540, 1650, 2820, 2750, 1040, 3160, 1240, 1490, 790, 560, 510]
QE_DKES_LO = [330, -270, 260, 940, -50, 2220, 410, -530, 2790, 3680,
              2040, 3310, 4410, 2140, 3130, 3080, 1430, 2480, 510, -2500,
              -2500, 1340, 1770, 1770, -2500, -2500, 1090, 1130, 940, 790,
              710, 560, 410, 0, 330, 110, -920, -170, -420, 110, 140, -20]

# ---------------- style ----------------
GREEN = '#1a8a1a'
RED = '#ff0000'
BLUE = '#0000ff'
YELLOW = '#ffff00'
CYAN = '#00ffff'
MAGENTA = '#ff00ff'
ORANGE = '#ff5a20'
GREY = '#a0a0a0'
BULLET = '#56678a'
FS1, FS2, FS3 = 28, 22, 23

sns.set_theme(style='ticks')
plt.rcParams['font.family'] = ['Liberation Serif', 'DejaVu Serif']
plt.rcParams['mathtext.fontset'] = 'stix'
plt.rcParams['mathtext.rm'] = 'DejaVu Serif:bold'
plt.rcParams['mathtext.it'] = 'DejaVu Serif:italic:bold'
plt.rcParams['mathtext.bf'] = 'DejaVu Serif:bold'

fig = plt.figure(figsize=(29.55, 28.48), dpi=100)
W, H = 1568.0, 1511.0


def fpos(x, y):
    return (x / W, 1 - y / H)


def new_axes(l, t, r, b):
    return fig.add_axes([l / W, 1 - b / H, (r - l) / W, (b - t) / H])


def setup(ax, xlim, ylim, xticks, yticks, fs, xpad, ypad, ylabel, ycx, xcy, yfs):
    ax.set_xlim(xlim)
    ax.set_ylim(ylim)
    ax.set_xticks(xticks)
    ax.set_yticks(yticks)
    fmt = FuncFormatter(lambda v, p: f'{v:g}')
    ax.xaxis.set_major_formatter(fmt)
    ax.yaxis.set_major_formatter(fmt)
    ax.tick_params(direction='in', top=True, right=True, length=7, width=1.3,
                   labelsize=fs, color='black', labelcolor='black')
    ax.tick_params(axis='x', pad=xpad)
    ax.tick_params(axis='y', pad=ypad)
    for sp in ax.spines.values():
        sp.set_visible(True)
        sp.set_linewidth(1.5)
        sp.set_color('black')
    bb = ax.get_position()
    ax.set_ylabel(ylabel, fontsize=yfs, va='center', ha='center')
    ax.yaxis.set_label_coords(ycx / W, (bb.y0 + bb.y1) / 2, transform=fig.transFigure)
    ax.set_xlabel('r/a', fontsize=fs, va='center', ha='center')
    ax.xaxis.set_label_coords((bb.x0 + bb.x1) / 2, 1 - xcy / H, transform=fig.transFigure)


class ErrbarHandler(HandlerBase):
    # gnuplot style key sample: horizontal bar with end caps, point in the middle
    def create_artists(self, legend, orig, xdescent, ydescent, width, height, fontsize, trans):
        x0, x1 = -xdescent, -xdescent + width
        y = height / 2 - ydescent
        c = orig.get_color()
        lw = orig.get_linewidth()
        cap = 0.28 * height
        arts = [Line2D([x0, x1], [y, y], color=c, lw=lw),
                Line2D([x0, x0], [y - cap, y + cap], color=c, lw=lw),
                Line2D([x1, x1], [y - cap, y + cap], color=c, lw=lw)]
        if orig.get_marker() not in ('None', None, ''):
            arts.append(Line2D([(x0 + x1) / 2], [y], ls='none', marker=orig.get_marker(),
                               ms=orig.get_markersize(), mfc=orig.get_markerfacecolor(),
                               mec=orig.get_markeredgecolor(), mew=orig.get_markeredgewidth()))
        for a in arts:
            a.set_transform(trans)
        return arts


def key(ax, items, anchor, loc, fs, spacing, opaque=False):
    handles, labels, hmap = [], [], {}
    for label, h, eb in items:
        handles.append(h)
        labels.append(label)
        if eb:
            hmap[h] = ErrbarHandler()
    leg = ax.legend(handles, labels, loc=loc, bbox_to_anchor=fpos(*anchor),
                    bbox_transform=fig.transFigure, frameon=opaque, fontsize=fs,
                    markerfirst=False, handlelength=2.7, handletextpad=0.7,
                    labelspacing=spacing, borderpad=0.0, borderaxespad=0,
                    handler_map=hmap, numpoints=1, facecolor='white',
                    edgecolor='none', framealpha=1.0, fancybox=False)
    leg.set_zorder(1.5)
    return leg


def line(color, lw):
    return Line2D([], [], color=color, lw=lw)


def pt(marker, color, ms, filled=True, mew=1.5, lw=1.5):
    return Line2D([], [], ls='none', marker=marker, ms=ms, color=color,
                  mfc=color if filled else 'none', mec=color, mew=mew, lw=lw)


def zero(ax):
    ax.axhline(0, color='black', lw=2, ls=(0, (5, 5)), zorder=1)


def bars(lo, hi):
    mid = [(a + b) / 2 for a, b in zip(lo, hi)]
    half = [(b - a) / 2 for a, b in zip(lo, hi)]
    return mid, half


X01 = [0, 0.2, 0.4, 0.6, 0.8, 1]
X21 = [0.2, 0.4, 0.6, 0.8, 1]
SP1, SP2, SP3 = 0.05, 0.13, 0.08

# ---- row 1: profiles ----
ax = new_axes(133, 13, 495, 273)
ax.errorbar(N_TS_R, N_TS_V, yerr=N_TS_ERR, fmt='o', ms=12, mfc='none', mec=GREEN, mew=1.5,
            ecolor=GREEN, elinewidth=1.5, capsize=4, capthick=1.5)
ax.errorbar(N_HE_R, N_HE_V, yerr=N_HE_ERR, fmt='^', ms=12, mfc='none', mec=GREEN, mew=1.5,
            ecolor=GREEN, elinewidth=1.5, capsize=4, capthick=1.5)
sns.lineplot(x=FIT_R, y=N_FIT, ax=ax, color=GREEN, linewidth=3, estimator=None, sort=False, legend=False)
setup(ax, (0, 1), (0, 2.5), X01, [0, 0.5, 1, 1.5, 2, 2.5], FS1, 17, 18,
      'n [10$^{19}$ m$^{-3}$]', 47, 326, 31)
key(ax, [('TS', pt('o', GREEN, 12, False), True), ('He beam', pt('^', GREEN, 12, False), True),
         ('fit', line(GREEN, 3), False)], (470, 22), 'upper right', FS1, SP1)

ax = new_axes(662, 13, 1024, 273)
ax.errorbar(TE_TS_R, TE_TS_V, yerr=TE_TS_ERR, fmt='o', ms=13, mfc='none', mec=RED, mew=1.5,
            ecolor=RED, elinewidth=1.5, capsize=4, capthick=1.5)
ax.errorbar(TE_HE_R, TE_HE_V, yerr=TE_HE_ERR, fmt='^', ms=13, mfc='none', mec=RED, mew=1.5,
            ecolor=RED, elinewidth=1.5, capsize=4, capthick=1.5)
sns.lineplot(x=FIT_R, y=TE_FIT, ax=ax, color=RED, linewidth=3, estimator=None, sort=False, legend=False)
setup(ax, (0, 1), (0, 0.45), X01, [0, 0.1, 0.2, 0.3, 0.4], FS1, 17, 18,
      'T$_{\\rm e}$ [keV]', 573, 326, 31)
key(ax, [('TS', pt('o', RED, 13, False), True), ('He beam', pt('^', RED, 13, False), True),
         ('fit', line(RED, 3), False)], (835, 270), 'lower right', FS1, SP1)

ax = new_axes(1203, 13, 1553, 273)
ax.errorbar(TI_CX_R, TI_CX_V, yerr=TI_CX_ERR, fmt='s', ms=13, mfc='none', mec=BLUE, mew=1.5,
            ecolor=BLUE, elinewidth=1.5, capsize=4, capthick=1.5)
sns.lineplot(x=TI_FIT_R, y=TI_FIT, ax=ax, color=BLUE, linewidth=3, estimator=None, sort=False, legend=False)
setup(ax, (0, 1), (0, 0.2), X01, [0, 0.05, 0.1, 0.15, 0.2], FS1, 17, 18,
      'T$_{\\rm i}$ [keV]', 1128, 326, 31)
key(ax, [('CXRS', pt('s', BLUE, 13, False), True), ('fit', line(BLUE, 3), False)],
    (1335, 270), 'lower right', FS1, SP1)

# ---- row 2: sources ----
ax = new_axes(107, 438, 503, 717)
zero(ax)
sns.scatterplot(x=R51, y=SE_NBI, ax=ax, color='black', marker='o', s=49, edgecolor='black', linewidth=0.5, legend=False)
ax.plot(R51, SE_WALL, ls='none', marker='o', ms=7, mfc='none', mec=YELLOW, mew=1.5)
ax.axhline(SE_DNDT, color=GREY, lw=1.5)
ax.plot(R51, SE_TOTAL, ls='none', marker='+', ms=10, color=RED, mew=1.6)
setup(ax, (0, 1), (-10, 230), X21, [0, 100, 200], FS2, 14, 9,
      'S$_{\\rm e}$ [10$^{19}$ m$^{-3}$s$^{-1}$]', 40, 760, 24)
key(ax, [('NBI', pt('o', 'black', 7), False), ('wall', pt('o', YELLOW, 7, False), False),
         ('dn/dt', line(GREY, 1.5), False), ('total', pt('+', RED, 10, mew=1.6), False)],
    (226, 443), 'upper right', FS2, SP2)

ax = new_axes(636, 438, 1031, 717)
zero(ax)
sns.scatterplot(x=R51, y=PI_NBI, ax=ax, color='black', marker='o', s=49, edgecolor='black', linewidth=0.5, legend=False)
ax.plot(R51, PI_COLL, ls='none', marker='o', ms=7, mfc='none', mec=YELLOW, mew=1.5)
sns.scatterplot(x=J40, y=PI_JOULE, ax=ax, color=CYAN, marker='s', s=64, edgecolor=CYAN, linewidth=0, legend=False)
ax.axhline(PI_DWDT, color=GREY, lw=1.5)
ax.plot(R51, PI_TOTAL, ls='none', marker='+', ms=10, color=RED, mew=1.2)
setup(ax, (0, 1), (-0.2, 0.7), X21, [-0.2, 0, 0.2, 0.4, 0.6], FS2, 14, 10,
      'P$_{\\rm i}$ [ MW/m$^3$]', 571, 760, 24)
key(ax, [('NBI', pt('o', 'black', 7), False), ('collisional transfer', pt('o', YELLOW, 7, False), False),
         ('Joule', pt('s', CYAN, 8), False), ('dW/dt', line(GREY, 1.5), False),
         ('total', pt('+', RED, 10, mew=1.2), False)], (1012, 443), 'upper right', FS2, SP2)

ax = new_axes(1166, 438, 1560, 717)
zero(ax)
sns.scatterplot(x=R51, y=PE_NBI, ax=ax, color='black', marker='o', s=49, edgecolor='black', linewidth=0.5, legend=False)
ax.plot(R51, PE_COLL, ls='none', marker='o', ms=7, mfc='none', mec=YELLOW, mew=1.5)
ax.plot(R51, PE_RAD, ls='none', marker='^', ms=7, mfc='none', mec=ORANGE, mew=1.3)
sns.scatterplot(x=J40, y=PE_JOULE, ax=ax, color=CYAN, marker='s', s=64, edgecolor=CYAN, linewidth=0, legend=False)
ax.axhline(PE_DWDT, color=GREY, lw=1.5)
ax.plot(R51, PE_TOTAL, ls='none', marker='+', ms=10, color=RED, mew=1.2)
setup(ax, (0, 1), (-0.2, 0.7), X21, [-0.2, 0, 0.2, 0.4, 0.6], FS2, 14, 10,
      'P$_{\\rm e}$ [ MW/m$^3$]', 1100, 760, 24)
key(ax, [('NBI', pt('o', 'black', 7), False), ('collisional transfer', pt('o', YELLOW, 7, False), False),
         ('rad', pt('^', ORANGE, 7, False, mew=1.3), False), ('Joule', pt('s', CYAN, 8), False),
         ('dW/dt', line(GREY, 1.5), False), ('total', pt('+', RED, 10, mew=1.2), False)],
    (1540, 443), 'upper right', FS2, SP2)

# ---- row 3: transport ----
ax = new_axes(92, 858, 503, 1138)
zero(ax)
ax.errorbar(ER_CXRS_R, ER_CXRS_V, yerr=ER_CXRS_ERR, fmt='s', ms=14, mfc='none', mec=RED, mew=2,
            ecolor=RED, elinewidth=2, capsize=4, capthick=2)
ax.errorbar(ER_DR_R, ER_DR_V, yerr=ER_DR_ERR, fmt='s', ms=13, mfc=RED, mec=RED,
            ecolor=RED, elinewidth=2, capsize=4, capthick=2)
sns.lineplot(x=ER_DKES_LR, y=ER_DKES_LV, ax=ax, color=GREEN, linewidth=2.5, estimator=None, sort=False, legend=False)
mid, half = bars(ER_DKES_LO, ER_DKES_HI)
ax.errorbar(ER_DKES_R, mid, yerr=half, fmt='none', ecolor=GREEN, elinewidth=2, capsize=3.5, capthick=2)
ax.errorbar(F40[:39], ER_FT_V, yerr=ER_FT_ERR, fmt='s', ms=6, mfc=BLUE, mec=BLUE,
            ecolor=BLUE, elinewidth=2.5, capsize=3, capthick=2)
setup(ax, (0, 1), (-6, 4), X01, [-4, -2, 0, 2, 4], FS3, 15, 15,
      'E$_{\\rm r}$ [kV/m]', 40, 1180, 24)
key(ax, [('CXRS', pt('s', RED, 14, False, mew=2, lw=2), True), ('DR', pt('s', RED, 13, lw=2), True),
         ('DKES', line(GREEN, 2.5), True), ('FORTEC-3D', pt('s', BLUE, 6, lw=2.5), True)],
    (245, 863), 'upper right', FS3, SP3)

ax = new_axes(630, 858, 1031, 1138)
zero(ax)
ax.plot(R51, GAM_A52, ls='none', marker='+', ms=7, color=RED, mew=2.5)
ax.plot(R51, GAM_A76, ls='none', marker='+', ms=7, color=RED, mew=2.5)
sns.lineplot(x=GAM_DKES_LR, y=GAM_DKES_LV, ax=ax, color=GREEN, linewidth=2.5, estimator=None, sort=False, legend=False)
mid, half = bars(GAM_DKES_LO, GAM_DKES_HI)
ax.errorbar(GAM_DKES_R, mid, yerr=half, fmt='none', ecolor=GREEN, elinewidth=2, capsize=3.5, capthick=2)
ax.errorbar(F40, GAM_FT_V, yerr=GAM_FT_ERR, fmt='s', ms=7, mfc=BLUE, mec=BLUE,
            ecolor=BLUE, elinewidth=2.5, capsize=3, capthick=2)
setup(ax, (0, 1), (-3, 12), X01, [-3, 0, 3, 6, 9, 12], FS3, 15, 15,
      '$\\Gamma$ [10$^{19}$m$^{-2}$s$^{-1}$]', 568, 1180, 24)
key(ax, [('ASTRA, R=0.52', pt('+', RED, 7, mew=2.5), False), ('ASTRA, R=0.76', pt('+', RED, 7, mew=2.5), False),
         ('DKES', line(GREEN, 2.5), True), ('FORTEC-3D', pt('s', BLUE, 7, lw=2.5), True)],
    (826, 863), 'upper right', FS3, SP3)

ax = new_axes(1188, 858, 1560, 1138)
zero(ax)
ax.plot(R51, QI_A52, ls='none', marker='+', ms=7, color=RED, mew=2.5)
ax.plot(R51, QI_A76, ls='none', marker='+', ms=7, color=RED, mew=2.5)
sns.lineplot(x=QI_DKES_LR, y=QI_DKES_LV, ax=ax, color=GREEN, linewidth=2.5, estimator=None, sort=False, legend=False)
mid, half = bars(QI_DKES_LO, QI_DKES_HI)
ax.errorbar(QI_DKES_R, mid, yerr=half, fmt='none', ecolor=GREEN, elinewidth=2, capsize=3.5, capthick=2)
ax.errorbar(F40, QI_FT_V, yerr=QI_FT_ERR, fmt='s', ms=7, mfc=BLUE, mec=BLUE,
            ecolor=BLUE, elinewidth=2.5, capsize=3, capthick=2)
ax.plot(R51, QI_HALF, ls='none', marker='s', ms=10, mfc='none', mec=MAGENTA, mew=2)
setup(ax, (0, 1), (-2000, 12000), X21, [0, 4000, 8000, 12000], FS3, 15, 11,
      'Q$_{\\rm i}$ [W/m$^2$]', 1100, 1180, 24)
key(ax, [('ASTRA, R=0.52', pt('+', RED, 7, mew=2.5), False), ('ASTRA, R=0.76', pt('+', RED, 7, mew=2.5), False),
         ('DKES', line(GREEN, 2.5), True), ('FORTEC-3D', pt('s', BLUE, 7, lw=2.5), True),
         ('ASTRA/2, R=0.76', pt('s', MAGENTA, 10, False, mew=2), False)],
    (1405, 863), 'upper right', FS3, SP3)

ax = new_axes(1192, 1190, 1565, 1468)
ax.set_axisbelow(True)
ax.grid(True, ls=':', color='#707070', lw=1.3)
zero(ax)
ax.plot(R51, QE_A52, ls='none', marker='+', ms=7, color=RED, mew=2.5, zorder=3)
ax.plot(R51, QE_A76, ls='none', marker='+', ms=7, color=RED, mew=2.5, zorder=3)
sns.lineplot(x=QE_DKES_LR, y=QE_DKES_LV, ax=ax, color=GREEN, linewidth=2.5, estimator=None, sort=False, legend=False, zorder=3)
mid, half = bars(QE_DKES_LO, QE_DKES_HI)
ax.errorbar(QE_DKES_R, mid, yerr=half, fmt='none', ecolor=GREEN, elinewidth=2, capsize=3.5, capthick=2, zorder=3)
ax.plot(R51, QE_HALF, ls='none', marker='s', ms=10, mfc='none', mec=MAGENTA, mew=2, zorder=3)
setup(ax, (0, 1), (-2000, 18000), X01, [0, 4000, 8000, 12000, 16000], FS3, 15, 15,
      'Q$_{\\rm e}$ [W/m$^2$]', 1102, 1501, 24)
key(ax, [('ASTRA, R=0.52', pt('+', RED, 7, mew=2.5), False), ('ASTRA, R=0.76', pt('+', RED, 7, mew=2.5), False),
         ('DKES', line(GREEN, 2.5), True), ('ASTRA/2', pt('s', MAGENTA, 10, False, mew=2), False)],
    (1390, 1195), 'upper right', FS3, SP3, opaque=True)

# ---- bullet text ----
BODY = dict(family=['cmss10', 'DejaVu Sans'], math_fontfamily='custom', va='baseline',
            fontsize=64, color='black')
renderer = fig.canvas.get_renderer()
FIGW = fig.bbox.width


def text_line(words, x0, y, x1=None, gap_em=0.333):
    texts = [fig.text(0, 1 - y / H, w, **BODY) for w in words]
    widths = [t.get_window_extent(renderer).width for t in texts]
    if x1 is None:
        gap = gap_em * 64 * 100 / 72
    else:
        gap = ((x1 - x0) / W * FIGW - sum(widths)) / (len(words) - 1)
    x = x0 / W * FIGW
    for t, w in zip(texts, widths):
        t.set_x(x / FIGW)
        x += w + gap


fig.text(*fpos(3, 1256), '\u25B6', family='DejaVu Sans', fontsize=57, color=BULLET, va='baseline')
text_line(['Good', 'agreement', 'for', '$E_r$', 'and', '$\\Gamma$', 'up', 'to', '$r/a\\!=\\!2/3$.'], 55, 1255)
fig.text(*fpos(3, 1319), '\u25B6', family='DejaVu Sans', fontsize=57, color=BULLET, va='baseline')
text_line(['Underestimation', 'of', '$Q_i$', 'and', '$Q_e$.'], 55, 1318)
fig.text(*fpos(44, 1382), '\u25B7', family='DejaVu Sans', fontsize=56, color=BULLET, va='baseline')
text_line(['Due', 'to', 'lack', 'of', 'NC', 'optimization', '$Q_b$', 'should', 'be'], 88, 1380, 1030)
text_line(['\u201cmore', 'NC\u201d', 'than', '$\\Gamma$', 'at', 'TJ-II.', 'And', '\u201cmore', 'NC\u201d', 'than'],
          88, 1440, 1028)
text_line(['$Q_b$', 'at', 'other', 'devices', 'for', 'similar', 'collisionalities.'], 88, 1500, gap_em=0.28)

fig.savefig('out.png', dpi=100)
